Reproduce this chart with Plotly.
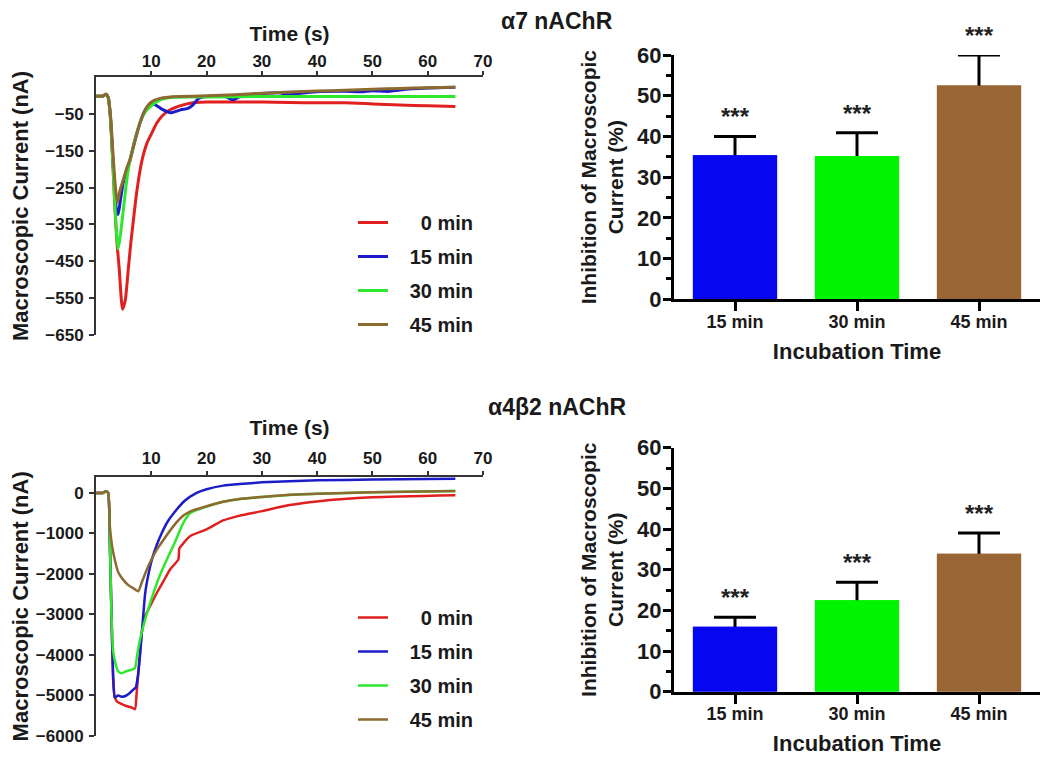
import plotly.graph_objects as go

# ---------------- data ----------------
# α7 nAChR current traces (time in s, current in nA)
a7_t_0min = [0, 1.2, 1.8, 2.2, 2.6, 3.0, 3.4, 3.8, 4.2, 4.8, 5.3, 5.85, 6.3, 6.75, 7.3, 7.95, 8.5, 9.2, 10, 11, 12, 13.4, 15, 17, 20, 25, 30, 35, 40, 45, 50, 55, 60, 65]
a7_i_0min = [-2, -2, 3, -5, -60, -170, -300, -400, -470, -580, -555, -470, -400, -340, -270, -205, -165, -130, -105, -75, -55, -39, -29, -21, -18, -18, -18, -19, -20, -20, -23, -26, -28, -30]

a7_t_15min = [0, 1.2, 1.8, 2.2, 2.6, 3.0, 3.4, 3.7, 4.0, 4.4, 4.95, 5.5, 6.15, 7.0, 7.95, 8.8, 9.75, 10.5, 11, 12, 13.5, 14.5, 15.5, 16.5, 17.5, 18.5, 19.5, 22, 23.5, 24.7, 26, 28, 30, 33, 35, 37, 40, 45, 48, 50, 53, 55, 60, 65]
a7_i_15min = [-2, -2, 3, -5, -55, -160, -260, -310, -323, -285, -235, -205, -176, -125, -75, -42, -25, -24, -28, -38, -47, -43, -38, -36, -26, -9, -4, -2, -4, -12, -4, 2, 5, 7, 2, 6, 10, 11, 10, 13, 11, 15, 20, 22]

a7_t_30min = [0, 1.2, 1.8, 2.2, 2.6, 3.0, 3.4, 3.7, 4.0, 4.4, 4.95, 5.4, 5.85, 6.3, 6.75, 7.3, 7.95, 8.5, 9.2, 10, 11, 12, 14, 17, 20, 30, 40, 50, 65]
a7_i_30min = [-2, -2, 3, -5, -60, -170, -290, -370, -417, -380, -310, -250, -200, -165, -138, -105, -75, -55, -39, -28, -17, -10, -5, -4, -4, -3, -3, -3, -3]

a7_t_45min = [0, 1.2, 1.8, 2.2, 2.6, 3.0, 3.4, 3.7, 3.9, 4.3, 4.95, 5.5, 6.15, 7.0, 7.95, 8.8, 9.75, 10.6, 11.6, 13, 15, 20, 25, 30, 35, 40, 45, 50, 55, 60, 65]
a7_i_45min = [-2, -2, 3, -5, -50, -140, -230, -275, -290, -260, -228, -200, -174, -125, -75, -42, -21, -13, -8, -5, -3, -1, 2, 6, 9, 12, 14, 17, 19, 21, 22]

# α4β2 nAChR current traces
a4b2_t_0min = [0, 1.2, 1.8, 2.2, 2.5, 2.8, 3.1, 3.4, 3.8, 4.5, 5.5, 6.5, 7.05, 7.35, 7.85, 8.26, 8.86, 9.76, 11, 12.2, 13.4, 14.9, 15.05, 15.3, 17, 20, 23, 26, 30, 35, 40, 50, 65]
a4b2_i_0min = [0, 0, 40, 0, -1200, -3000, -4600, -5050, -5150, -5200, -5260, -5300, -5340, -4940, -4115, -3460, -3050, -2800, -2470, -2180, -1890, -1640, -1380, -1330, -1070, -900, -680, -560, -450, -300, -210, -110, -60]

a4b2_t_15min = [0, 1.2, 1.8, 2.2, 2.5, 2.8, 3.1, 3.4, 4.0, 4.6, 5.2, 6.0, 6.7, 7.2, 7.6, 7.95, 8.5, 8.9, 9.5, 10.1, 11, 11.9, 13, 14.6, 16, 18.2, 20, 23, 26, 30, 35, 40, 50, 65]
a4b2_i_15min = [0, 0, 40, 0, -1200, -3000, -4500, -5050, -5000, -5030, -5020, -4950, -4860, -4800, -4500, -4030, -3100, -2470, -2000, -1650, -1280, -990, -700, -410, -200, 0, 90, 180, 220, 260, 290, 310, 330, 350]

a4b2_t_30min = [0, 1.2, 1.8, 2.2, 2.5, 2.8, 3.1, 3.5, 4.0, 4.6, 5.5, 6.5, 7.05, 7.5, 8.0, 8.55, 9.5, 10.4, 11.5, 12.8, 14, 15.8, 17, 20, 23, 26, 30, 35, 40, 50, 65]
a4b2_i_30min = [0, 0, 40, 0, -1200, -3000, -3900, -4200, -4400, -4450, -4400, -4360, -4320, -3950, -3600, -3290, -2850, -2470, -2050, -1650, -1300, -740, -500, -340, -220, -150, -100, -50, -20, 15, 50]

a4b2_t_45min = [0, 1.2, 1.8, 2.2, 2.5, 2.9, 3.4, 4.0, 4.9, 5.8, 6.7, 7.65, 8.3, 9.2, 10, 11, 12.5, 14, 15.8, 17, 20, 23, 26, 30, 35, 40, 50, 65]
a4b2_i_45min = [0, 0, 40, 0, -820, -1300, -1650, -1950, -2140, -2270, -2350, -2430, -2200, -1890, -1650, -1400, -1100, -820, -560, -460, -330, -220, -150, -100, -45, -20, 15, 50]

trace_labels = ["0 min", "15 min", "30 min", "45 min"]

# inhibition bar data (%)
incubation = ["15 min", "30 min", "45 min"]
a7_inhibition = [35.4, 35.2, 52.5]
a7_sem = [4.6, 5.7, 7.5]
a4b2_inhibition = [16.0, 22.5, 33.9]
a4b2_sem = [2.3, 4.4, 5.1]
significance = ["***", "***", "***"]

time_ticks = [10, 20, 30, 40, 50, 60, 70]
a7_current_ticks = [-50, -150, -250, -350, -450, -550, -650]
a4b2_current_ticks = [0, -1000, -2000, -3000, -4000, -5000, -6000]

# ---------------- style ----------------
PAGE_OFF = 8                       # default body margin of the html page
W, H = 1050 - PAGE_OFF, 757 - PAGE_OFF
FONT = "Liberation Sans, Arial, sans-serif"
line_colors = ["#e11f1f", "#1c1cc8", "#2ee82e", "#8c6a30"]
bar_colors = ["#0606f0", "#00f400", "#9a6535"]
AX = "#333333"
TXT = "#1a1a1a"

def px_x(p):
    return (p - PAGE_OFF) / W

def px_y(p):
    return 1 - (p - PAGE_OFF) / H

def legend_name(lbl):
    pad = "\u00a0" * 3
    if len(lbl) < 6:
        pad += "\u00a0\u00a0"
    return pad + lbl

fig = go.Figure()

a7_sets = [(a7_t_0min, a7_i_0min), (a7_t_15min, a7_i_15min), (a7_t_30min, a7_i_30min), (a7_t_45min, a7_i_45min)]
a4b2_sets = [(a4b2_t_0min, a4b2_i_0min), (a4b2_t_15min, a4b2_i_15min), (a4b2_t_30min, a4b2_i_30min), (a4b2_t_45min, a4b2_i_45min)]

for k, (t, i) in enumerate(a7_sets):
    fig.add_trace(go.Scatter(x=t, y=i, mode="lines", name=legend_name(trace_labels[k]),
                             line=dict(color=line_colors[k], width=3, shape="spline", smoothing=0.6),
                             xaxis="x", yaxis="y", legend="legend", legendgroup="a%d" % k))
for k, (t, i) in enumerate(a4b2_sets):
    fig.add_trace(go.Scatter(x=t, y=i, mode="lines", name=legend_name(trace_labels[k]),
                             line=dict(color=line_colors[k], width=2.5, shape="spline", smoothing=0.5),
                             xaxis="x2", yaxis="y2", legend="legend2", legendgroup="b%d" % k))

for vals, sem, xa, ya in [(a7_inhibition, a7_sem, "x3", "y3"), (a4b2_inhibition, a4b2_sem, "x4", "y4")]:
    # bar with the (upper) error bar
    fig.add_trace(go.Bar(x=incubation, y=vals, width=0.69, marker=dict(color=bar_colors, line=dict(width=0)),
                         error_y=dict(type="data", array=sem, arrayminus=[0.8] * len(sem), symmetric=False,
                                      color="black", thickness=3, width=21),
                         xaxis=xa, yaxis=ya, showlegend=False, hoverinfo="skip"))
    # same bars drawn again on top, hiding the lower cap of the error bar
    fig.add_trace(go.Bar(x=incubation, y=vals, width=0.69, marker=dict(color=bar_colors, line=dict(width=0)),
                         xaxis=xa, yaxis=ya, showlegend=False))
    for c, v, s, txt in zip(incubation, vals, sem, significance):
        fig.add_annotation(x=c, y=v + s, xref=xa, yref=ya, text=txt, showarrow=False,
                           yanchor="bottom", yshift=4, font=dict(size=24, color="#222"))

tick_font = dict(size=17, color=TXT)
title_font = dict(size=22, color=TXT)

def line_xaxis(domain_y_anchor, label_standoff, title_standoff):
    return dict(domain=[px_x(96), px_x(483)], anchor=domain_y_anchor, range=[0, 70], side="top",
                tickvals=time_ticks, ticks="outside", ticklen=4, tickwidth=2, tickcolor=AX,
                showline=True, linewidth=2, linecolor=AX, showgrid=False, zeroline=False, automargin=False,
                tickfont=tick_font, ticklabelstandoff=label_standoff,
                title=dict(text="Time (s)", font=dict(size=21, color=TXT), standoff=title_standoff))

def line_yaxis(anchor, dom, rng, ticks, standoff):
    return dict(domain=dom, anchor=anchor, range=rng, tickvals=ticks, ticks="outside", ticklen=5,
                tickwidth=2, tickcolor=AX, showline=True, linewidth=2, linecolor=AX, showgrid=False,
                zeroline=False, automargin=False, tickfont=tick_font, ticklabelstandoff=2,
                title=dict(text="Macroscopic Current (nA)", font=title_font, standoff=standoff))

def bar_xaxis(anchor):
    return dict(domain=[px_x(674), px_x(1040)], anchor=anchor, type="category", range=[-0.5, 2.5],
                ticks="outside", ticklen=9, tickwidth=3, tickcolor="black", showline=True, linewidth=3,
                linecolor="black", showgrid=False, zeroline=False, automargin=False,
                tickfont=dict(size=18, color=TXT), ticklabelstandoff=-5,
                title=dict(text="Incubation Time", font=dict(size=22, color=TXT), standoff=13))

def bar_yaxis(anchor, dom):
    return dict(domain=dom, anchor=anchor, range=[0, 60], dtick=10, ticks="outside", ticklen=8,
                tickwidth=3, tickcolor="black", showline=True, linewidth=3, linecolor="black",
                showgrid=False, zeroline=False, automargin=False, tickfont=dict(size=22, color=TXT),
                ticklabelstandoff=-3,
                minor=dict(dtick=5, ticks="outside", ticklen=5, tickwidth=3, tickcolor="black"),
                title=dict(text="Inhibition of Macroscopic<br>Current (%)", font=dict(size=21, color=TXT),
                           standoff=8))

leg_common = dict(font=dict(size=20, color=TXT), bgcolor="rgba(0,0,0,0)", tracegroupgap=5,
                  xanchor="left", yanchor="top", itemwidth=30)

fig.update_layout(
    width=W, height=H, margin=dict(l=0, r=0, t=0, b=0, autoexpand=False),
    paper_bgcolor="white", plot_bgcolor="white", barmode="overlay",
    font=dict(family=FONT, weight="bold", color=TXT),
    xaxis=line_xaxis("y", -3, 5),
    yaxis=line_yaxis("x", [px_y(335), px_y(77)], [-650, 50], a7_current_ticks, 25),
    xaxis2=line_xaxis("y2", 0, 8),
    yaxis2=line_yaxis("x2", [px_y(736), px_y(476.7)], [-6000, 400], a4b2_current_ticks, 13),
    xaxis3=bar_xaxis("y3"),
    yaxis3=bar_yaxis("x3", [px_y(299.3), px_y(55)]),
    xaxis4=bar_xaxis("y4"),
    yaxis4=bar_yaxis("x4", [px_y(691.7), px_y(447.7)]),
    legend=dict(x=px_x(353), y=px_y(203), **leg_common),
    legend2=dict(x=px_x(353), y=px_y(598), **leg_common),
    showlegend=True,
)

fig.add_annotation(x=px_x(557), y=1.0, xref="paper", yref="paper", text="α7 nAChR", showarrow=False,
                   xanchor="center", yanchor="top", yshift=1, borderpad=0, font=dict(size=23, color=TXT))
fig.add_annotation(x=px_x(557), y=px_y(392), xref="paper", yref="paper", text="α4β2 nAChR", showarrow=False,
                   xanchor="center", yanchor="top", font=dict(size=23, color=TXT))

fig.write_html("out.html")
